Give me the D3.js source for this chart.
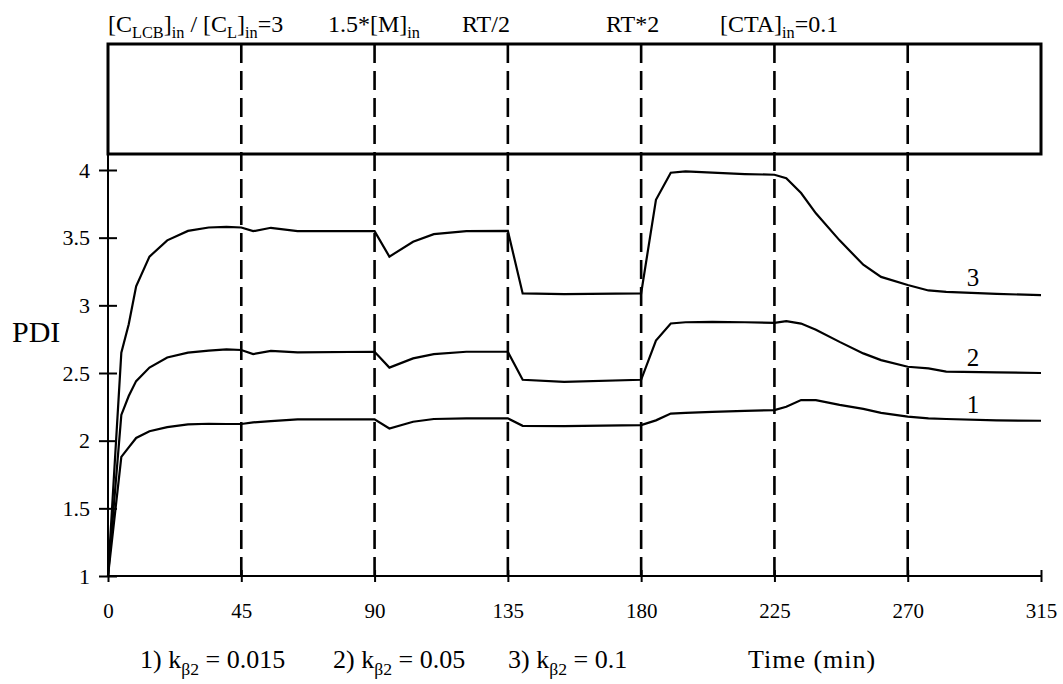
<!DOCTYPE html>
<html>
<head>
<meta charset="utf-8">
<script src="https://cdn.jsdelivr.net/npm/d3@7"></script>
<style>
  body { margin: 0; background: #fff; }
  text { font-family: "Liberation Serif", "Times New Roman", serif; fill: #000; }
</style>
</head>
<body>
<script>
// time (min) and PDI for the three k_b2 cases
const times = [0, 4.5, 7, 9.5, 14, 20, 27, 34, 40, 45, 49, 55, 64, 90, 95, 103, 110, 121, 135, 140, 154, 180,
  185, 190, 195, 204, 215, 225, 229, 234, 239, 247, 255, 261, 270, 277, 283, 300, 315];
const pdi1 = [1.0, 1.88, 1.95, 2.02, 2.07, 2.10, 2.12, 2.125, 2.123, 2.123, 2.135, 2.145, 2.157, 2.157, 2.09, 2.14, 2.16, 2.165, 2.165, 2.11, 2.108, 2.115,
  2.15, 2.20, 2.205, 2.213, 2.22, 2.226, 2.25, 2.30, 2.30, 2.265, 2.235, 2.205, 2.177, 2.165, 2.16, 2.15, 2.147];
const pdi2 = [1.0, 2.19, 2.33, 2.44, 2.54, 2.615, 2.65, 2.665, 2.674, 2.67, 2.64, 2.664, 2.652, 2.657, 2.54, 2.608, 2.64, 2.657, 2.657, 2.45, 2.435, 2.45,
  2.74, 2.866, 2.875, 2.878, 2.875, 2.871, 2.883, 2.865, 2.82, 2.73, 2.645, 2.595, 2.546, 2.534, 2.51, 2.505, 2.50];
const pdi3 = [1.0, 2.65, 2.86, 3.14, 3.36, 3.48, 3.55, 3.575, 3.58, 3.575, 3.548, 3.573, 3.548, 3.548, 3.36, 3.47, 3.526, 3.548, 3.55, 3.088, 3.083, 3.088,
  3.78, 3.98, 3.99, 3.98, 3.97, 3.965, 3.94, 3.83, 3.68, 3.48, 3.30, 3.21, 3.15, 3.11, 3.10, 3.085, 3.075];

const xTicks = [0, 45, 90, 135, 180, 225, 270, 315];
const yTicks = [1, 1.5, 2, 2.5, 3, 3.5, 4];
const eventTimes = [45, 90, 135, 180, 225, 270];
const curveNames = ['1', '2', '3'];

const W = 1063, H = 684;
const svg = d3.select('body').append('svg').attr('width', W).attr('height', H);

const x = d3.scaleLinear().domain([0, 315]).range([108, 1041]);
const y = d3.scaleLinear().domain([1, 4]).range([576, 170]);
const boxTop = 44, boxBottom = 154;

// top box
svg.append('rect')
  .attr('x', x(0)).attr('y', boxTop)
  .attr('width', x(315) - x(0)).attr('height', boxBottom - boxTop)
  .attr('fill', 'none').attr('stroke', '#000').attr('stroke-width', 3);

// dashed event lines
svg.selectAll('.ev')
  .data(eventTimes)
  .enter().append('line')
  .attr('class', 'ev')
  .attr('x1', d => x(d)).attr('x2', d => x(d))
  .attr('y1', boxTop).attr('y2', y(1))
  .attr('stroke', '#000').attr('stroke-width', 2.6)
  .attr('stroke-dasharray', '19,8');

// axes
const yAxis = svg.append('g')
  .attr('transform', `translate(${x(0)},0)`)
  .call(d3.axisLeft(y).tickValues(yTicks).tickSize(9).tickPadding(9).tickFormat(d3.format('')));
yAxis.select('.domain').remove();
yAxis.selectAll('.tick line').attr('x1', -9).attr('x2', 9).attr('stroke-width', 2);
yAxis.selectAll('.tick text').style('font-size', '22px');
svg.append('line')
  .attr('x1', x(0)).attr('x2', x(0)).attr('y1', boxBottom).attr('y2', y(1))
  .attr('stroke', '#000').attr('stroke-width', 2);

const xAxis = svg.append('g')
  .attr('transform', `translate(0,${y(1)})`)
  .call(d3.axisBottom(x).tickValues(xTicks).tickSize(5).tickPadding(22));
xAxis.select('.domain').remove();
xAxis.selectAll('.tick line').attr('y1', -6).attr('y2', 6).attr('stroke-width', 2);
xAxis.selectAll('.tick text').style('font-size', '21px');
svg.append('line')
  .attr('x1', x(0)).attr('x2', x(315)).attr('y1', y(1)).attr('y2', y(1))
  .attr('stroke', '#000').attr('stroke-width', 2);

// curves
const series = [pdi1, pdi2, pdi3];
const line = d3.line().x((d, i) => x(times[i])).y(d => y(d));
svg.selectAll('.curve')
  .data(series)
  .enter().append('path')
  .attr('class', 'curve')
  .attr('d', d => line(d))
  .attr('fill', 'none').attr('stroke', '#000').attr('stroke-width', 2.2);

// curve numbers
svg.selectAll('.cname')
  .data(series)
  .enter().append('text')
  .attr('x', x(292))
  .attr('y', d => y(d[d.length - 3]) - 6)
  .attr('text-anchor', 'middle')
  .style('font-size', '25px')
  .text((d, i) => curveNames[i]);

// PDI label
svg.append('text').attr('x', 12).attr('y', 342).style('font-size', '30px').text('PDI');

// rich text helper: parts are [text, 'sub'|null]
function rich(xPos, yPos, parts, size) {
  const t = svg.append('text').attr('x', xPos).attr('y', yPos).style('font-size', size + 'px');
  let down = false;
  parts.forEach(([s, kind]) => {
    const sp = t.append('tspan').text(s);
    if (kind === 'sub' && !down) { sp.attr('dy', size * 0.25).style('font-size', (size * 0.68) + 'px'); down = true; }
    else if (kind === 'sub') { sp.style('font-size', (size * 0.68) + 'px'); }
    else if (down) { sp.attr('dy', -size * 0.25); down = false; }
  });
  return t;
}

// event labels above box
rich(108, 32, [['[C'], ['LCB', 'sub'], [']'], ['in', 'sub'], [' / [C'], ['L', 'sub'], [']'], ['in', 'sub'], ['=3']], 24);
rich(328, 32, [['1.5*[M]'], ['in', 'sub']], 24);
rich(462, 32, [['RT/2']], 24);
rich(606, 32, [['RT*2']], 24);
rich(720, 32, [['[CTA]'], ['in', 'sub'], ['=0.1']], 24);

// legend line under axis
rich(140, 668, [['1) k'], ['\u03B22', 'sub'], [' = 0.015']], 26);
rich(333, 668, [['2) k'], ['\u03B22', 'sub'], [' = 0.05']], 26);
rich(508, 668, [['3) k'], ['\u03B22', 'sub'], [' = 0.1']], 26);
svg.append('text').attr('x', 748).attr('y', 668).style('font-size', '26px').style('letter-spacing', '1px').text('Time (min)');
</script>
</body>
</html>
